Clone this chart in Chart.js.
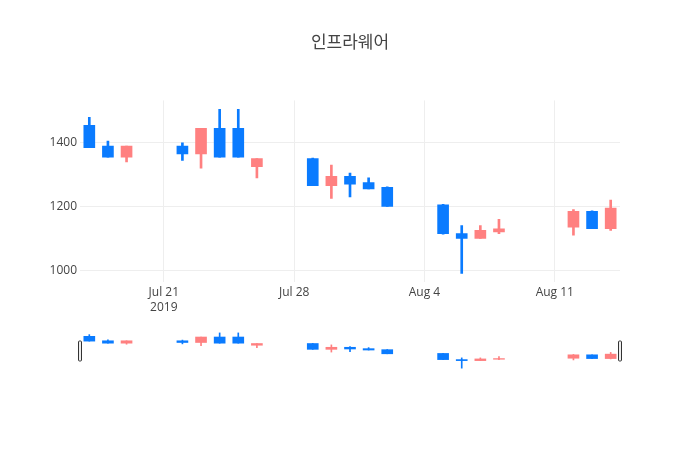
<!DOCTYPE html>
<html>
<head>
<meta charset="utf-8">
<script src="https://cdn.jsdelivr.net/npm/chart.js@4"></script>
<style>
    body { margin: 0; background: #fff; }
    #wrap { position: relative; width: 700px; height: 450px; }
    #wrap canvas { position: absolute; left: 0; }
</style>
</head>
<body>
<div id="wrap">
    <canvas id="mainChart" width="700" height="450" style="top:0"></canvas>
    <canvas id="sliderChart" width="700" height="60" style="top:320px"></canvas>
</div>
<script>
// Daily prices
const dates = ['2019-07-17', '2019-07-18', '2019-07-19', '2019-07-22', '2019-07-23', '2019-07-24', '2019-07-25', '2019-07-26',
    '2019-07-29', '2019-07-30', '2019-07-31', '2019-08-01', '2019-08-02', '2019-08-05', '2019-08-06', '2019-08-07',
    '2019-08-08', '2019-08-12', '2019-08-13', '2019-08-14'];
const openPrices = [1455, 1390, 1355, 1390, 1365, 1445, 1445, 1325, 1350, 1265, 1295, 1275, 1260, 1205, 1115, 1100, 1120, 1135, 1185, 1130];
const highPrices = [1480, 1405, 1390, 1400, 1445, 1505, 1505, 1350, 1352, 1330, 1305, 1290, 1262, 1207, 1140, 1140, 1160, 1190, 1186, 1220];
const lowPrices = [1385, 1355, 1340, 1345, 1320, 1355, 1355, 1290, 1265, 1225, 1230, 1255, 1200, 1113, 990, 1100, 1115, 1110, 1130, 1125];
const closePrices = [1385, 1355, 1390, 1365, 1445, 1355, 1355, 1350, 1265, 1295, 1270, 1255, 1200, 1115, 1100, 1125, 1130, 1185, 1130, 1195];

// Axis ticks
const xTickDates = ['2019-07-21', '2019-07-28', '2019-08-04', '2019-08-11'];
const xTickLabels = [['Jul 21', '2019'], 'Jul 28', 'Aug 4', 'Aug 11'];
const yTicks = [1000, 1200, 1400];

const UP = '#ff8080';
const DOWN = '#0a7bff';

// day number counted from 2019-06-30
function dayNum(s) {
    const [y, m, d] = s.split('-').map(Number);
    return (Date.UTC(y, m - 1, d) - Date.UTC(2019, 5, 30)) / 86400000;
}

const xs = dates.map(dayNum);
const colors = openPrices.map((o, i) => closePrices[i] >= o ? UP : DOWN);
const wickData = xs.map((x, i) => ({ x: x, y: [lowPrices[i], highPrices[i]] }));
const bodyData = xs.map((x, i) => ({ x: x, y: [openPrices[i], closePrices[i]] }));

const xMin = xs[0] - 0.5;
const xMax = xs[xs.length - 1] + 0.5;
const yMin = 963;
const yMax = 1533;

Chart.defaults.font.family = '"Open Sans", "Noto Sans CJK KR", sans-serif';
Chart.defaults.color = '#444';
Chart.defaults.animation = false;

function candleDatasets(wickWidth, bodyWidth) {
    return [{
        data: wickData,
        backgroundColor: colors,
        barThickness: wickWidth,
        grouped: false,
        order: 2
    }, {
        data: bodyData,
        backgroundColor: colors,
        barThickness: bodyWidth,
        grouped: false,
        order: 1
    }];
}

// Main chart
new Chart(document.getElementById('mainChart'), {
    type: 'bar',
    data: { datasets: candleDatasets(2, 11) },
    options: {
        responsive: false,
        layout: { padding: 0 },
        plugins: {
            legend: { display: false },
            tooltip: { enabled: false },
            title: {
                display: true,
                text: '인프라웨어',
                font: { size: 17, weight: 'normal' },
                color: '#444',
                padding: { top: 33, bottom: 47 }
            }
        },
        scales: {
            x: {
                type: 'linear',
                min: xMin,
                max: xMax,
                offset: false,
                border: { display: false },
                grid: { color: '#eee', drawTicks: false, offset: false },
                afterBuildTicks: s => { s.ticks = xTickDates.map(d => ({ value: dayNum(d) })); },
                afterFit: s => { s.height = 168; },
                ticks: {
                    autoSkip: false,
                    maxRotation: 0,
                    padding: 3,
                    font: { size: 12, lineHeight: 1.25 },
                    callback: (v, i) => xTickLabels[i]
                }
            },
            y: {
                min: yMin,
                max: yMax,
                border: { display: false },
                grid: { color: '#eee', drawTicks: false },
                afterBuildTicks: s => { s.ticks = yTicks.map(v => ({ value: v })); },
                afterFit: s => { s.width = 80; },
                ticks: { padding: 3, font: { size: 12 }, callback: v => String(v) }
            },
            // empty right margin so the title stays centred on the page
            yRight: {
                position: 'right',
                min: yMin,
                max: yMax,
                border: { display: false },
                grid: { display: false },
                ticks: { display: false },
                afterFit: s => { s.width = 80; }
            }
        }
    }
});

// Range slider handles
const handlePlugin = {
    id: 'handles',
    afterDraw(chart) {
        const { ctx, chartArea } = chart;
        const h = 20;
        const top = (chartArea.top + chartArea.bottom) / 2 - h / 2;
        ctx.save();
        ctx.fillStyle = '#eee';
        ctx.strokeStyle = '#333';
        ctx.lineWidth = 1;
        [chartArea.left - 2, chartArea.right - 2].forEach(x => {
            ctx.beginPath();
            ctx.roundRect(x + 0.5, top + 0.5, 3, h, 1);
            ctx.fill();
            ctx.stroke();
        });
        ctx.restore();
    }
};

new Chart(document.getElementById('sliderChart'), {
    type: 'bar',
    data: { datasets: candleDatasets(1, 11) },
    options: {
        responsive: false,
        layout: { padding: { left: 80, right: 80, top: 11, bottom: 10 } },
        plugins: {
            legend: { display: false },
            tooltip: { enabled: false }
        },
        scales: {
            x: { type: 'linear', min: xMin, max: xMax, offset: false, display: false },
            y: { min: yMin, max: yMax, display: false }
        }
    },
    plugins: [handlePlugin]
});
</script>
</body>
</html>
